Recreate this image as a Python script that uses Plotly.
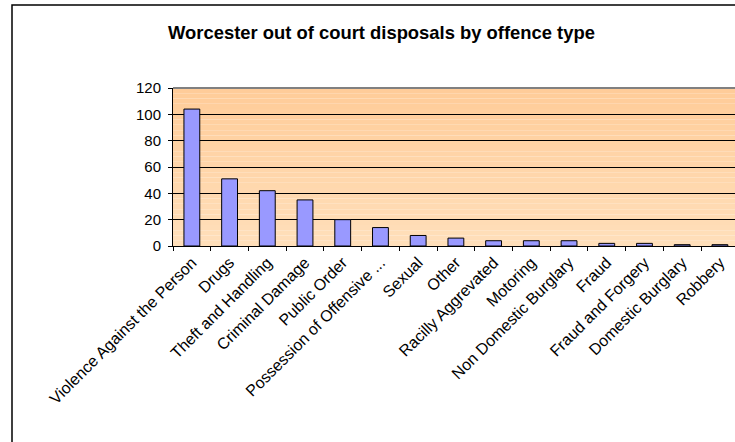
import plotly.graph_objects as go

categories = ["Violence Against the Person", "Drugs", "Theft and Handling", "Criminal Damage",
              "Public Order", "Possession of Offensive ...", "Sexual", "Other",
              "Racilly Aggrevated", "Motoring", "Non Domestic Burglary", "Fraud",
              "Fraud and Forgery", "Domestic Burglary", "Robbery"]
values = [104, 51, 42, 35, 20, 14, 8, 6, 4, 4, 4, 2, 2, 1, 1]
y_ticks = [0, 20, 40, 60, 80, 100, 120]

W, H = 735, 442
L, T = 173, 88
B = H - 246
pw, ph = W - L, H - T - B

fig = go.Figure()
fig.add_trace(go.Bar(x=categories, y=values, width=0.42,
                     marker=dict(color="#9999FF", line=dict(color="black", width=1))))

# gradient background bands
shapes = []
n = 30
def lerp(a, b, t):
    return int(round(a + (b - a) * t))
top = (0xFF, 0xCC, 0x99)
bot = (0xFF, 0xDF, 0xBA)
for i in range(n):
    t = i / (n - 1)
    c = tuple(lerp(top[k], bot[k], t) for k in range(3))
    shapes.append(dict(type="rect", xref="paper", yref="paper", x0=0, x1=1,
                       y0=1 - (i + 1) / n, y1=1 - i / n, layer="below",
                       fillcolor="rgb(%d,%d,%d)" % c, line=dict(width=0)))
# top border of plot area
shapes.append(dict(type="line", xref="paper", yref="paper", x0=0, x1=1, y0=1, y1=1,
                   line=dict(color="#808080", width=2)))
# chart frame
fx0 = (12 - L) / pw
fy1 = 1 + (T - 5) / ph
shapes.append(dict(type="rect", xref="paper", yref="paper", x0=fx0, x1=1.2,
                   y0=-2, y1=fy1, line=dict(color="black", width=1.5)))

fig.update_layout(
    width=W, height=H,
    margin=dict(l=L, r=0, t=T, b=B, autoexpand=False),
    paper_bgcolor="white", plot_bgcolor="rgba(0,0,0,0)",
    showlegend=False,
    shapes=shapes,
    font=dict(family="Liberation Sans, Arial, sans-serif", color="black"),
    title=dict(text="<b>Worcester out of court disposals by offence type</b>",
               x=381.5 / W, xanchor="center", y=1 - 33 / H, yanchor="middle",
               font=dict(size=18.4, color="black")),
)
fig.update_xaxes(range=[-0.5, 14.4], tickangle=-45, tickfont=dict(size=16),
                 ticks="outside", ticklen=4, tickcolor="black", tickson="boundaries",
                 showline=True, linecolor="black", linewidth=1, showgrid=False,
                 automargin=False)
fig.update_yaxes(range=[0, 120], tickvals=y_ticks, tickfont=dict(size=15),
                 ticks="outside", ticklen=4, tickcolor="black", ticklabelstandoff=4,
                 showline=True, linecolor="black", linewidth=1,
                 showgrid=True, gridcolor="black", gridwidth=1, zeroline=False,
                 automargin=False)

fig.write_html("out.html", config={"displayModeBar": False},
               post_script="document.body.style.margin='0px';")
